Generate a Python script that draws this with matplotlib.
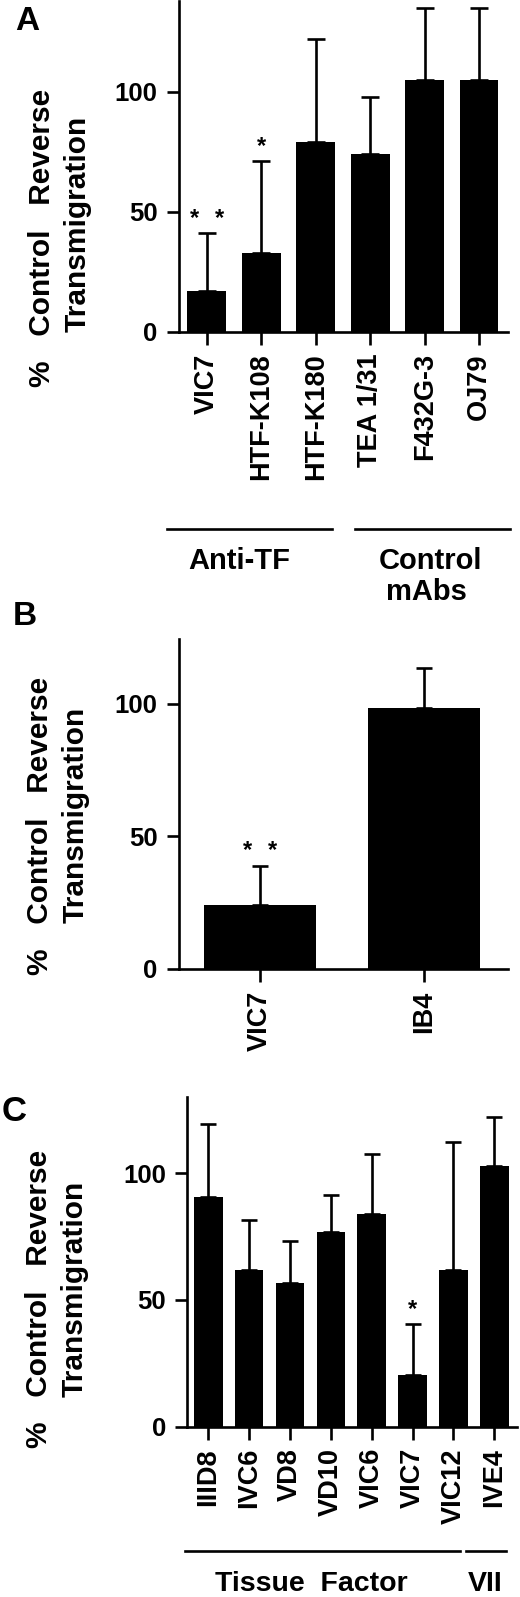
import matplotlib
matplotlib.use("Agg")
import matplotlib.pyplot as plt
from matplotlib.transforms import blended_transform_factory
from matplotlib.lines import Line2D

plt.rcParams['font.family'] = ['Liberation Sans', 'DejaVu Sans']
plt.rcParams['font.weight'] = 'bold'

# ---------------- data ----------------
a_labels = ["VIC7", "HTF-K108", "HTF-K180", "TEA 1/31", "F432G-3", "OJ79"]
a_means = [17, 33, 79, 74, 105, 105]
a_upper = [41, 71, 122, 98, 135, 135]
a_sig = ["**", "*", "", "", "", ""]

b_labels = ["VIC7", "IB4"]
b_means = [24, 98.5]
b_upper = [39, 113.5]
b_sig = ["**", ""]

c_labels = ["IIID8", "IVC6", "VD8", "VD10", "VIC6", "VIC7", "VIC12", "IVE4"]
c_means = [90.7, 61.7, 56.7, 76.8, 83.8, 20.5, 61.7, 102.7]
c_upper = [119.3, 81.6, 73.2, 91.3, 107.5, 40.3, 112.5, 122.2]
c_sig = ["", "", "", "", "", "*", "", ""]

a_groups = [("Anti-TF", 0, 2), ("Control\nmAbs", 3, 5)]
c_groups = [("Tissue  Factor", 0, 6), ("VII", 7, 7)]

ylabel_l1 = "%   Control   Reverse"
ylabel_l2 = "Transmigration"
yticks = [0, 50, 100]

# ---------------- layout helpers ----------------
W, H = 520, 1597
fig = plt.figure(figsize=(W / 100, H / 100), dpi=100)


def fx(px):
    return px / W


def fy(py):
    return 1 - py / H


def make_axes(left, right, top, bottom):
    return fig.add_axes([fx(left), fy(bottom), fx(right) - fx(left), (bottom - top) / H])


LW = 1.9


def draw_panel(ax, labels, means, upper, sig, ylim_top, xlim, width, capsize):
    x = list(range(len(labels)))
    ax.bar(x, means, width=width, color='black', edgecolor='none', zorder=2)
    err_up = [u - m for u, m in zip(upper, means)]
    ax.errorbar(x, means, yerr=[[0] * len(x), err_up], fmt='none', ecolor='black',
                elinewidth=LW, capsize=capsize, capthick=LW, zorder=1)
    ax.set_xlim(*xlim)
    ax.set_ylim(0, ylim_top)
    ax.set_yticks(yticks)
    ax.set_yticklabels([str(t) for t in yticks], fontsize=18.5, fontweight='bold')
    ax.set_xticks(x)
    ax.set_xticklabels(labels, rotation=90, fontsize=19.5, fontweight='bold')
    for s in ['top', 'right']:
        ax.spines[s].set_visible(False)
    for s in ['left', 'bottom']:
        ax.spines[s].set_linewidth(LW)
    ax.tick_params(axis='both', length=9, width=LW, direction='out', pad=6.5)
    fs = 17
    for xi, u, s in zip(x, upper, sig):
        if not s:
            continue
        base = 15.8 - 0.575 * fs
        offs = [0] if len(s) == 1 else [-9.2, 9.2]
        for o in offs:
            ax.annotate('*', xy=(xi, u), xytext=(o, base), textcoords='offset points',
                        ha='center', va='baseline', fontsize=fs, fontweight='bold')


def ylabel(x1, y1, x2, y2):
    fig.text(fx(x1), fy(y1), ylabel_l1, rotation=90, ha='center', va='center',
             fontsize=21.5, fontweight='bold')
    fig.text(fx(x2), fy(y2), ylabel_l2, rotation=90, ha='center', va='center',
             fontsize=21.5, fontweight='bold')


# ---------------- Panel A ----------------
axA = make_axes(179, 508, 0.5, 331.7)
draw_panel(axA, a_labels, a_means, a_upper, a_sig, 138, (-0.51, 5.53), 0.71, 6.8)
ylabel(42, 237.5, 78, 224)
fig.text(fx(15), fy(30), "A", ha='left', va='baseline', fontsize=24, fontweight='bold')

trA = blended_transform_factory(axA.transData, fig.transFigure)
a_line_ext = [(-0.73, 2.30), (2.72, 5.56)]
for (name, i0, i1), (l, r) in zip(a_groups, a_line_ext):
    fig.add_artist(Line2D([l, r], [fy(529), fy(529)], transform=trA, color='black', lw=LW))
axA.text(0.59, fy(569), "Anti-TF", transform=trA, ha='center', va='baseline',
         fontsize=21, fontweight='bold')
axA.text(4.11, fy(569), "Control", transform=trA, ha='center', va='baseline',
         fontsize=21, fontweight='bold')
axA.text(4.04, fy(600), "mAbs", transform=trA, ha='center', va='baseline',
         fontsize=21, fontweight='bold')

# ---------------- Panel B ----------------
axB = make_axes(179, 508, 639, 969)
draw_panel(axB, b_labels, b_means, b_upper, b_sig, 124.5, (-0.494, 1.51), 0.68, 6.1)
ylabel(40, 825.5, 76, 814.5)
fig.text(fx(13), fy(625), "B", ha='left', va='baseline', fontsize=24, fontweight='bold')

# ---------------- Panel C ----------------
axC = make_axes(187.3, 516.7, 1096.7, 1426.5)
draw_panel(axC, c_labels, c_means, c_upper, c_sig, 130.2, (-0.514, 7.55), 0.70, 5.8)
ylabel(39, 1299, 75, 1288.5)
fig.text(fx(2), fy(1121), "C", ha='left', va='baseline', fontsize=25, fontweight='bold')

trC = blended_transform_factory(axC.transData, fig.transFigure)
c_line_ext = [(-0.57, 6.16), (6.32, 7.29)]
for (name, i0, i1), (l, r) in zip(c_groups, c_line_ext):
    fig.add_artist(Line2D([l, r], [fy(1551), fy(1551)], transform=trC, color='black', lw=LW))
axC.text(2.51, fy(1591), "Tissue  Factor", transform=trC, ha='center', va='baseline',
         fontsize=20.5, fontweight='bold')
axC.text(6.77, fy(1591), "VII", transform=trC, ha='center', va='baseline',
         fontsize=20.5, fontweight='bold')

fig.savefig("out.png", dpi=100)
